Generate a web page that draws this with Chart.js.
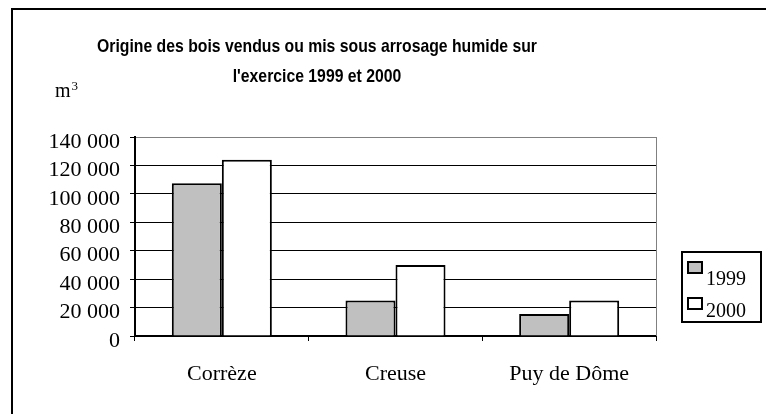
<!DOCTYPE html>
<html>
<head>
<meta charset="utf-8">
<script src="https://cdn.jsdelivr.net/npm/chart.js@4.4.0/dist/chart.umd.min.js"></script>
<style>
  body { margin: 0; background: #fff; }
  #wrap { position: relative; width: 766px; height: 414px; }
  #frame { position: absolute; left: 11px; top: 8px; right: 0; bottom: 0;
           border-top: 2px solid #000; border-left: 2px solid #000; pointer-events: none; }
</style>
</head>
<body>
<div id="wrap">
  <canvas id="myChart" width="766" height="414"></canvas>
  <div id="frame"></div>
</div>
<script>
var categories = ['Corrèze', 'Creuse', 'Puy de Dôme'];
var years = ['1999', '2000'];
var values1999 = [107500, 25000, 15500];
var values2000 = [124000, 50000, 25000];
var yMax = 140000;
var yStep = 20000;
var titleLines = ['Origine des bois vendus ou mis sous arrosage humide sur', "l'exercice 1999 et 2000"];
var unitText = 'm';
var unitSup = '3';

var serif = '"Liberation Serif", "Times New Roman", serif';
var titleFont = 'bold 19px "Liberation Sans", Arial, sans-serif';
var barColors = ['#c0c0c0', '#ffffff'];

function fmt(v){
  return String(v).replace(/\B(?=(\d{3})+(?!\d))/g, ' ');
}

// title, unit, legend box and the grey right edge of the plot
var extras = {
  id: 'extras',
  beforeDatasetsDraw: function(chart){
    var ctx = chart.ctx;
    var a = chart.chartArea;
    ctx.save();
    ctx.strokeStyle = '#808080';
    ctx.lineWidth = 1;
    ctx.beginPath();
    ctx.moveTo(Math.round(a.right) + 0.5, a.top);
    ctx.lineTo(Math.round(a.right) + 0.5, a.bottom);
    ctx.stroke();
    ctx.restore();
  },
  afterDraw: function(chart){
    var ctx = chart.ctx;
    ctx.save();
    ctx.fillStyle = '#000';
    ctx.font = titleFont;
    ctx.textAlign = 'center';
    ctx.textBaseline = 'alphabetic';
    // the original title face is a narrow bold sans: squeeze it
    ctx.save();
    ctx.translate(317, 0);
    ctx.scale(0.83, 1);
    ctx.fillText(titleLines[0], 0, 52);
    ctx.fillText(titleLines[1], 0, 82);
    ctx.restore();

    ctx.textAlign = 'left';
    ctx.font = '20px ' + serif;
    ctx.fillText(unitText, 55, 97);
    var mw = ctx.measureText(unitText).width;
    ctx.font = '13px ' + serif;
    ctx.fillText(unitSup, 55 + mw + 1, 90);

    // legend
    ctx.strokeStyle = '#000';
    ctx.lineWidth = 2;
    ctx.strokeRect(682, 252, 79, 70);
    var ys = [262, 298];
    var base = [285, 317];
    ctx.font = '20px ' + serif;
    for (var i = 0; i < years.length; i++) {
      ctx.fillStyle = barColors[i];
      ctx.fillRect(688, ys[i], 14, 11);
      ctx.strokeRect(688, ys[i], 14, 11);
      ctx.fillStyle = '#000';
      ctx.fillText(chart.data.datasets[i].label, 706, base[i]);
    }
    ctx.restore();
  }
};

new Chart('myChart', {
  type: 'bar',
  data: {
    labels: categories,
    datasets: [{
      label: years[0],
      data: values1999,
      backgroundColor: barColors[0],
      borderColor: '#000',
      borderWidth: 2
    }, {
      label: years[1],
      data: values2000,
      backgroundColor: barColors[1],
      borderColor: '#000',
      borderWidth: 2
    }]
  },
  options: {
    responsive: false,
    animation: false,
    categoryPercentage: 0.576,
    barPercentage: 1,
    layout: { padding: { top: 137, right: 110, bottom: 28, left: 0 } },
    plugins: {
      legend: { display: false },
      title: { display: false },
      tooltip: { enabled: false }
    },
    scales: {
      x: {
        grid: { drawOnChartArea: false, drawTicks: true, tickLength: 5, color: '#000', offset: true },
        border: { color: '#000', width: 2 },
        ticks: { font: { family: serif, size: 22 }, color: '#000', padding: 20 },
        afterFit: function(s){ s.height = 50; }
      },
      y: {
        min: 0,
        max: yMax,
        grid: {
          color: function(c){ return c.tick && c.tick.value === yMax ? '#808080' : '#000'; },
          lineWidth: 1,
          tickLength: 5,
          tickColor: '#000'
        },
        border: { color: '#000', width: 2 },
        ticks: {
          stepSize: yStep,
          autoSkip: false,
          font: { family: serif, size: 22 },
          color: '#000',
          padding: 10,
          labelOffset: 5,
          callback: function(v){ return fmt(v); }
        },
        afterFit: function(s){ s.width = 135; }
      }
    }
  },
  plugins: [extras]
});
</script>
</body>
</html>
